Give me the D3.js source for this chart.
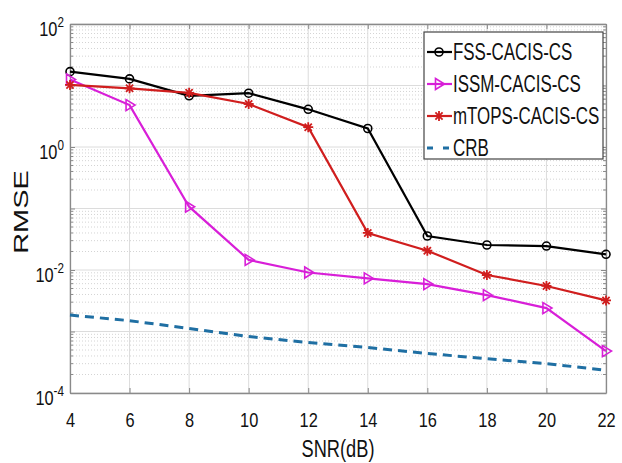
<!DOCTYPE html>
<html lang="en">
<head>
<meta charset="UTF-8">
<title>RMSE vs SNR</title>
<style>
body { margin: 0; background: #fff; }
text { font-family: "Liberation Sans", Arial, sans-serif; fill: #111; }
.grid-major { stroke: #dcdcdc; stroke-width: 1; }
.grid-minor { stroke: #d4d4d4; stroke-width: 1; stroke-dasharray: 1,2; }
.axis path, .axis line { stroke: #8a8a8a; }
</style>
</head>
<body>
<svg id="chart"></svg>
<script src="https://d3js.org/d3.v7.min.js"></script>
<script>
// values
const snr = [4, 6, 8, 10, 12, 14, 16, 18, 20, 22];
const fss = [16.8, 12.8, 6.8, 7.5, 4.1, 2.0, 0.0357, 0.0255, 0.0245, 0.018];
const issm = [12.5, 4.8, 0.107, 0.0146, 0.0091, 0.0073, 0.0059, 0.0039, 0.0024, 0.00048];
const mtops = [10.2, 9.0, 7.6, 5.0, 2.1, 0.040, 0.0206, 0.0083, 0.0055, 0.0032];
const crb = [0.00185, 0.0015, 0.00112, 0.00083, 0.00066, 0.00055, 0.00044, 0.00036, 0.0003, 0.000235];
const yTickExp = [2, 0, -2, -4];
const seriesNames = ["FSS-CACIS-CS", "ISSM-CACIS-CS", "mTOPS-CACIS-CS", "CRB"];

const W = 622, H = 463;
const margin = { top: 24, right: 16, bottom: 70, left: 70 };
const width = W - margin.left - margin.right;
const height = H - margin.top - margin.bottom;

const root = d3.select("#chart").attr("width", W).attr("height", H);
root.append("rect").attr("width", W).attr("height", H).attr("fill", "#fff");
const svg = root.append("g").attr("transform", `translate(${margin.left},${margin.top})`);

const x = d3.scaleLinear().domain([4, 22]).range([0, width]);
const y = d3.scaleLog().domain([1e-4, 1e2]).range([height, 0]);

// minor / major grid
const minorVals = [];
for (let d = -4; d < 2; d++) for (let k = 2; k <= 9; k++) minorVals.push(k * Math.pow(10, d));
const majorVals = d3.range(-4, 3).map(e => Math.pow(10, e));

svg.append("g").selectAll("line").data(minorVals).enter().append("line")
  .attr("class", "grid-minor")
  .attr("x1", 0).attr("x2", width)
  .attr("y1", d => y(d)).attr("y2", d => y(d));
svg.append("g").selectAll("line").data(majorVals).enter().append("line")
  .attr("class", "grid-major")
  .attr("x1", 0).attr("x2", width)
  .attr("y1", d => y(d)).attr("y2", d => y(d));
svg.append("g").selectAll("line").data(snr).enter().append("line")
  .attr("class", "grid-major")
  .attr("x1", d => x(d)).attr("x2", d => x(d))
  .attr("y1", 0).attr("y2", height);

// axes with inward ticks (box all round)
const xAxis = svg.append("g").attr("class", "axis")
  .attr("transform", `translate(0,${height})`)
  .call(d3.axisBottom(x).tickValues(snr).tickSizeInner(-5).tickSizeOuter(0).tickFormat(d3.format("d")));
xAxis.selectAll("text")
  .attr("y", 34).attr("dy", null)
  .attr("font-size", 21)
  .attr("transform", "scale(0.78,1)");
svg.append("g").attr("class", "axis")
  .call(d3.axisTop(x).tickValues(snr).tickSizeInner(-5).tickSizeOuter(0).tickFormat(""));

const yAxisL = svg.append("g").attr("class", "axis")
  .call(d3.axisLeft(y).tickValues(majorVals).tickSizeInner(-5).tickSizeOuter(0).tickFormat(""));
yAxisL.append("g").selectAll("line").data(minorVals).enter().append("line")
  .attr("x1", 0).attr("x2", 3).attr("y1", d => y(d)).attr("y2", d => y(d));
const yAxisR = svg.append("g").attr("class", "axis")
  .attr("transform", `translate(${width},0)`)
  .call(d3.axisRight(y).tickValues(majorVals).tickSizeInner(-5).tickSizeOuter(0).tickFormat(""));
yAxisR.append("g").selectAll("line").data(minorVals).enter().append("line")
  .attr("x1", 0).attr("x2", -3).attr("y1", d => y(d)).attr("y2", d => y(d));
svg.selectAll(".axis path").attr("stroke-width", 1.3);

// y tick labels 10^n
const yLab = svg.append("g").selectAll("g").data(yTickExp).enter().append("g")
  .attr("transform", d => `translate(-6,${y(Math.pow(10, d)) + 12}) scale(0.78,1)`);
const yt = yLab.append("text").attr("text-anchor", "end").attr("font-size", 21);
yt.append("tspan").text("10");
yt.append("tspan").attr("dy", -9).attr("font-size", 15).text(d => d);

// axis titles
svg.append("g").attr("transform", `translate(${width / 2},${height + 64}) scale(0.76,1)`)
  .append("text").attr("text-anchor", "middle").attr("font-size", 24).text("SNR(dB)");
root.append("g").attr("transform", "translate(28,212) rotate(-90) scale(1.38,1)")
  .append("text").attr("text-anchor", "middle").attr("font-size", 21).text("RMSE");

// series
const colors = ["#000000", "#d81fd8", "#d01e1e", "#1f6fa3"];
const data = [fss, issm, mtops, crb];
const line = d3.line().x((d, i) => x(snr[i])).y(d => y(d));

function marker(g, type, color) {
  if (type === 0) {
    g.append("circle").attr("r", 4).attr("fill", "none").attr("stroke", color).attr("stroke-width", 1.6);
  } else if (type === 1) {
    g.append("path").attr("d", "M-3.5,-5.5 L5.5,0 L-3.5,5.5 Z")
      .attr("fill", "none").attr("stroke", color).attr("stroke-width", 1.6);
  } else if (type === 2) {
    g.append("path").attr("d", "M-5,0 L5,0 M0,-5 L0,5 M-3.6,-3.6 L3.6,3.6 M-3.6,3.6 L3.6,-3.6")
      .attr("stroke", color).attr("stroke-width", 1.8);
  }
}

data.forEach((vals, s) => {
  const p = svg.append("path").datum(vals)
    .attr("fill", "none")
    .attr("stroke", colors[s])
    .attr("stroke-width", s === 3 ? 3 : 2.2)
    .attr("d", line);
  if (s === 3) p.attr("stroke-dasharray", "9,6");
  if (s < 3) {
    svg.append("g").selectAll("g").data(vals).enter().append("g")
      .attr("transform", (d, i) => `translate(${x(snr[i])},${y(d)})`)
      .each(function () { marker(d3.select(this), s, colors[s]); });
  }
});

// legend
const lg = root.append("g").attr("transform", "translate(424,32)");
lg.append("rect").attr("width", 179).attr("height", 127)
  .attr("fill", "#fff").attr("stroke", "#444").attr("stroke-width", 1.2);
seriesNames.forEach((name, s) => {
  const row = lg.append("g").attr("transform", `translate(0,${20 + s * 32})`);
  if (s < 3) {
    row.append("line").attr("x1", 3).attr("x2", 28).attr("stroke", colors[s]).attr("stroke-width", 2.2);
    marker(row.append("g").attr("transform", "translate(15,0)"), s, colors[s]);
  } else {
    row.append("line").attr("x1", 3).attr("x2", 26).attr("stroke", colors[s])
      .attr("stroke-width", 3).attr("stroke-dasharray", "6,10");
  }
  row.append("g").attr("transform", "translate(29,8) scale(0.72,1)")
    .append("text").attr("font-size", 23.5).text(name);
});
</script>
</body>
</html>
